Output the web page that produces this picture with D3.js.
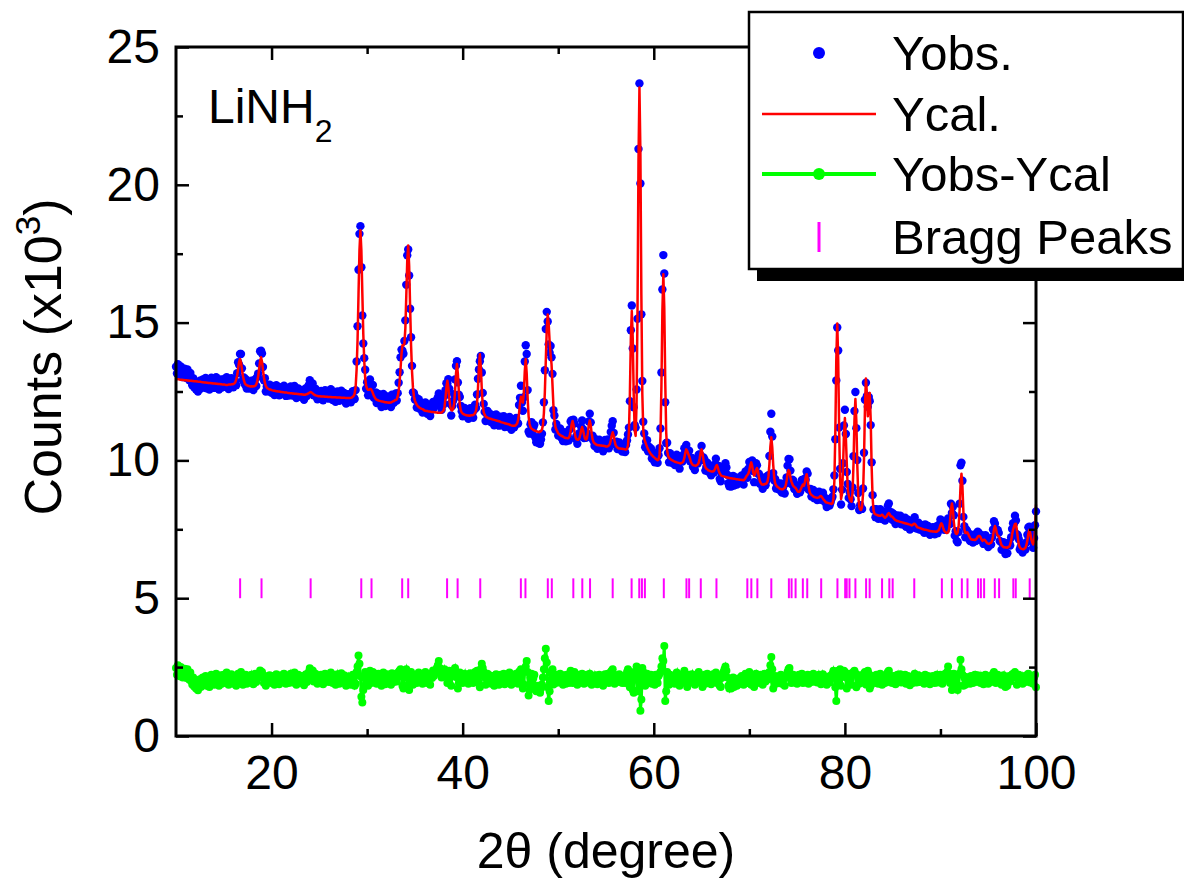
<!DOCTYPE html>
<html>
<head>
<meta charset="utf-8">
<script src="https://cdn.jsdelivr.net/npm/d3@7"></script>
<style>
  body { margin: 0; background: #ffffff; }
</style>
</head>
<body>
<div id="chart"></div>
<script>
// 2theta grid of the scan
const thetaStart = 10
const thetaStep = 0.1

// calculated profile Ycal, x10^3 counts, one line per degree
const yCalc = [
  12.95,12.95,12.94,12.94,12.93,12.93,12.93,12.92,12.92,12.91, // 10
  12.91,12.91,12.90,12.90,12.89,12.89,12.89,12.88,12.88,12.87,
  12.87,12.87,12.86,12.86,12.85,12.85,12.85,12.84,12.84,12.83,
  12.83,12.83,12.82,12.82,12.81,12.81,12.81,12.80,12.80,12.79,
  12.79,12.79,12.78,12.78,12.77,12.77,12.77,12.76,12.76,12.75,
  12.75,12.75,12.74,12.74,12.74,12.75,12.75,12.75,12.76,12.76, // 15
  12.77,12.79,12.83,12.93,13.08,13.32,13.57,13.68,13.56,13.30,
  13.07,12.91,12.80,12.75,12.73,12.71,12.70,12.69,12.68,12.69,
  12.68,12.69,12.69,12.71,12.76,12.87,13.05,13.32,13.60,13.74,
  13.58,13.29,13.01,12.82,12.70,12.64,12.61,12.59,12.57,12.57,
  12.55,12.54,12.53,12.53,12.52,12.51,12.51,12.50,12.50,12.49, // 20
  12.48,12.48,12.47,12.47,12.46,12.46,12.46,12.45,12.45,12.44,
  12.44,12.44,12.43,12.43,12.42,12.42,12.42,12.41,12.41,12.40,
  12.40,12.40,12.39,12.39,12.38,12.38,12.40,12.40,12.42,12.44,
  12.47,12.48,12.46,12.43,12.40,12.38,12.36,12.35,12.34,12.33,
  12.33,12.33,12.32,12.32,12.32,12.32,12.31,12.31,12.31,12.30, // 25
  12.30,12.30,12.30,12.29,12.29,12.29,12.29,12.29,12.28,12.28,
  12.28,12.28,12.28,12.27,12.27,12.27,12.27,12.27,12.26,12.26,
  12.26,12.26,12.26,12.27,12.28,12.31,12.34,12.43,12.67,13.29,
  14.37,16.02,17.62,18.35,17.61,16.06,14.59,13.61,12.99,12.70,
  12.60,12.56,12.56,12.59,12.59,12.53,12.44,12.35,12.29,12.23, // 30
  12.20,12.19,12.17,12.16,12.15,12.14,12.14,12.13,12.12,12.11,
  12.11,12.10,12.10,12.09,12.10,12.10,12.12,12.14,12.15,12.18,
  12.19,12.21,12.32,12.52,12.85,13.34,13.87,14.18,14.17,14.23,
  14.78,15.97,17.24,17.80,17.06,15.58,14.17,13.23,12.63,12.32,
  12.17,12.08,12.02,11.97,11.94,11.91,11.89,11.87,11.86,11.84, // 35
  11.81,11.80,11.79,11.79,11.78,11.77,11.77,11.76,11.76,11.76,
  11.75,11.75,11.74,11.74,11.73,11.73,11.73,11.73,11.74,11.77,
  11.80,11.94,12.25,12.65,12.89,12.65,12.25,11.95,11.83,11.81,
  11.86,12.05,12.49,13.13,13.50,13.13,12.48,12.02,11.82,11.74,
  11.70,11.68,11.66,11.65,11.64,11.63,11.63,11.62,11.63,11.64, // 40
  11.64,11.65,11.67,11.72,11.80,12.04,12.61,13.40,13.85,13.39,
  12.59,12.00,11.75,11.66,11.59,11.57,11.55,11.53,11.52,11.51,
  11.50,11.49,11.48,11.47,11.46,11.45,11.44,11.43,11.42,11.41,
  11.39,11.38,11.37,11.36,11.35,11.34,11.33,11.32,11.31,11.30,
  11.28,11.27,11.26,11.26,11.26,11.26,11.30,11.34,11.46,11.71, // 45
  12.07,12.31,12.20,12.10,12.44,13.24,13.68,13.16,12.25,11.60,
  11.32,11.21,11.15,11.13,11.11,11.09,11.07,11.06,11.05,11.04,
  11.02,11.05,11.06,11.12,11.28,11.71,12.47,13.62,14.74,15.29,
  14.96,14.31,13.85,13.49,12.74,11.97,11.47,11.22,11.12,11.06,
  10.98,10.95,10.92,10.90,10.88,10.86,10.84,10.82,10.81,10.81, // 50
  10.80,10.82,10.89,11.06,11.30,11.43,11.28,11.04,10.86,10.77,
  10.76,10.75,10.79,10.92,11.10,11.21,11.09,10.93,10.79,10.76,
  10.79,10.99,11.29,11.45,11.28,10.97,10.76,10.66,10.62,10.59,
  10.57,10.56,10.55,10.55,10.54,10.54,10.53,10.53,10.52,10.52,
  10.50,10.50,10.52,10.54,10.59,10.73,10.91,11.02,10.90,10.71, // 55
  10.56,10.50,10.47,10.44,10.43,10.43,10.42,10.42,10.41,10.41,
  10.40,10.40,10.42,10.54,11.04,12.40,14.42,15.42,14.41,12.38,
  11.09,10.89,12.07,15.54,20.90,23.53,21.15,16.00,12.43,11.10,
  10.78,10.68,10.58,10.49,10.41,10.34,10.28,10.23,10.19,10.15,
  10.12,10.09,10.06,10.03,10.01,10.03,10.20,10.86,12.69,15.40, // 60
  16.75,15.53,12.86,11.03,10.34,10.17,10.09,10.06,10.03,10.01,
  9.99,9.97,9.95,9.94,9.93,9.92,9.91,9.90,9.89,9.91,
  9.92,9.97,10.09,10.28,10.40,10.34,10.24,10.15,10.05,9.93,
  9.87,9.83,9.82,9.81,9.80,9.83,9.85,9.91,10.06,10.28,
  10.40,10.25,10.01,9.83,9.75,9.70,9.68,9.64,9.63,9.61, // 65
  9.60,9.60,9.60,9.62,9.68,9.78,9.83,9.75,9.62,9.53,
  9.48,9.44,9.43,9.42,9.41,9.40,9.39,9.38,9.37,9.36,
  9.35,9.35,9.34,9.34,9.33,9.33,9.32,9.32,9.31,9.31,
  9.30,9.30,9.29,9.29,9.28,9.31,9.36,9.43,9.47,9.52,
  9.64,9.83,9.93,9.80,9.57,9.45,9.50,9.66,9.72,9.60, // 70
  9.40,9.25,9.18,9.13,9.13,9.12,9.14,9.14,9.17,9.23,
  9.42,9.86,10.49,10.84,10.47,9.84,9.38,9.17,9.10,9.05,
  9.03,9.00,8.97,8.96,8.95,8.95,8.98,9.00,9.08,9.26,
  9.51,9.65,9.59,9.39,9.24,9.14,9.07,9.04,9.01,8.97,
  8.91,8.86,8.86,8.88,8.97,9.05,9.12,9.08,9.18,9.38, // 75
  9.50,9.32,9.06,8.87,8.78,8.75,8.72,8.69,8.67,8.66,
  8.65,8.64,8.65,8.66,8.70,8.71,8.67,8.61,8.57,8.53,
  8.48,8.47,8.46,8.45,8.44,8.43,8.42,8.44,8.60,9.25,
  11.02,13.65,14.97,13.64,11.09,9.30,8.60,8.78,9.66,10.92,
  11.54,10.86,9.88,8.95,8.74,8.61,8.53,8.50,8.82,9.85, // 80
  11.44,12.23,11.42,9.81,8.72,8.32,8.21,8.20,8.32,8.78,
  10.03,11.90,12.97,12.44,11.60,12.06,12.45,11.48,9.77,8.64,
  8.18,8.07,8.04,8.03,8.01,8.00,7.99,7.99,8.01,8.03,
  7.99,7.95,7.92,7.95,7.99,8.06,8.09,8.04,7.97,7.97,
  7.94,7.90,7.86,7.83,7.81,7.80,7.79,7.78,7.77,7.76, // 85
  7.75,7.74,7.73,7.72,7.71,7.70,7.69,7.68,7.67,7.66,
  7.64,7.66,7.70,7.70,7.67,7.61,7.57,7.56,7.55,7.54,
  7.52,7.51,7.50,7.49,7.48,7.48,7.47,7.46,7.45,7.44,
  7.43,7.43,7.42,7.42,7.42,7.41,7.41,7.44,7.46,7.54,
  7.66,7.72,7.65,7.53,7.44,7.40,7.37,7.37,7.39,7.50, // 90
  7.79,8.23,8.44,8.22,7.77,7.47,7.35,7.33,7.38,7.60,
  8.18,9.07,9.52,9.06,8.15,7.51,7.37,7.37,7.39,7.34,
  7.25,7.19,7.14,7.13,7.12,7.12,7.11,7.13,7.16,7.23,
  7.26,7.26,7.21,7.13,7.08,7.11,7.12,7.09,7.04,6.99,
  6.98,6.97,7.00,7.01,7.08,7.25,7.49,7.62,7.53,7.35, // 95
  7.27,7.25,7.16,7.01,6.92,6.89,6.85,6.85,6.84,6.84,
  6.83,6.86,6.87,6.95,7.09,7.31,7.48,7.60,7.69,7.70,
  7.48,7.18,6.94,6.85,6.81,6.79,6.78,6.78,6.80,6.83,
  6.93,7.10,7.33,7.47,7.36,7.15,7.02,6.95,7.08,7.45,
  8.40 // 100
]

// Yobs - Ycal, x10^3 counts, same grid
const yDiff = [
  .45,.20,.55,.25,.15,.48,.30,.10,.35,.42, // 10
  .35,.08,.40,.18,.02,.28,-.02,-.15,.10,-.22,
  -.16,-.30,-.10,-.36,-.20,.04,-.24,-.12,.10,-.16,
  -.04,.16,-.20,-.08,.12,-.24,.00,.20,-.10,.06,
  -.16,.10,.24,-.06,.14,-.20,.04,.18,-.12,.08,
  .20,-.08,.04,.28,.10,-.16,.12,-.04,.22,.06, // 15
  -.12,.16,.04,-.20,.08,.24,-.10,.18,.30,.04,
  -.16,.10,-.04,.20,-.12,.06,.14,-.08,.10,.20,
  .04,-.14,.12,.24,-.06,.16,.10,.20,.36,.24,
  .30,.10,-.10,.16,-.20,.04,.12,-.08,.18,.02,
  -.10,.16,.06,-.16,.12,.22,-.04,.08,-.14,.10, // 20
  .18,-.06,.12,.24,.00,-.12,.16,.06,-.10,.14,
  .24,.08,-.08,.12,.28,.04,-.16,.10,.20,-.04,
  .12,-.10,.16,.04,-.18,.08,.22,-.06,.14,.30,
  .44,.20,.10,.36,-.04,.16,.24,.02,-.12,.08,
  .16,-.08,.20,.06,-.14,.12,.24,-.04,.10,.18, // 25
  -.06,.14,.28,.04,-.10,.20,.08,-.16,.12,.22,
  .04,-.12,.16,.26,.00,-.08,.18,.10,-.20,.06,
  .14,-.04,.10,-.16,.08,.20,-.06,-.20,-.12,.30,
  .50,.90,.60,.15,-.60,-.80,-.35,.10,.30,-.10,
  .24,-.20,.16,.35,-.10,.20,.30,-.08,.12,.24, // 30
  -.12,.08,.24,-.04,.16,-.20,.10,.28,.00,-.14,
  .12,.22,-.08,.18,.04,-.16,.26,.08,-.06,.16,
  .24,-.04,.12,.30,.35,.40,.15,-.20,-.30,.10,
  .30,.40,.20,-.15,-.35,-.08,.30,.20,-.16,.12,
  .04,.20,-.10,.16,.28,-.04,.12,.22,-.12,.08, // 35
  .18,.30,.06,-.10,.20,.12,-.16,.24,.08,.36,
  .16,.28,.35,.45,.55,.70,.45,.25,.10,.35,
  .24,.40,.30,.15,-.10,.30,.35,.10,-.20,.16,
  .30,.35,.45,.30,.10,-.30,-.10,.28,.16,.04,
  -.10,.16,.24,-.04,.12,.20,-.12,.08,.26,.14, // 40
  .04,-.10,.16,.30,.10,.35,.35,-.10,-.25,.40,
  .60,.45,.30,.10,-.16,.12,.24,-.08,.18,.04,
  -.12,.16,.06,-.20,.10,.22,-.04,.14,-.16,.08,
  .20,-.08,.12,.24,-.14,.04,.16,-.10,.18,.28,
  .06,-.16,.10,.20,-.06,.14,.24,.04,-.12,.30, // 45
  .20,.40,-.10,-.30,-.15,.35,.50,.70,.30,-.55,
  -.35,.10,.24,-.16,.08,.20,-.24,-.40,-.35,-.20,
  -.40,-.45,-.30,-.15,.10,.40,.80,1.15,.65,-.25,
  -.75,-.40,.30,.25,.40,-.15,.16,-.10,.20,.04,
  -.08,.14,.24,-.06,.10,-.16,.18,.06,-.12,.20, // 50
  .08,-.10,.24,.35,.16,-.10,.20,.30,-.08,.12,
  -.16,.10,.20,-.04,.12,.24,.04,-.12,.16,.06,
  .20,-.08,.12,.24,.10,-.16,.14,.04,-.10,.18,
  .10,-.14,.08,.20,-.06,.16,.04,-.20,.12,.22,
  -.04,.14,.24,-.10,.08,.30,.35,.40,.10,-.12, // 55
  .08,.18,-.06,.12,.22,-.04,.14,-.10,.06,.16,
  -.10,.16,.30,.40,.15,-.25,.30,.20,-.35,-.45,
  .20,.30,.50,-.40,.40,.15,-1.10,-.70,.45,.30,
  .20,-.20,.10,.24,-.08,.16,.04,.20,-.12,.08,
  .12,-.16,.20,.06,-.10,.16,.24,.30,.50,.80, // 60
  .70,1.25,-.75,-.40,.30,.10,-.16,.20,.08,-.10,
  .16,.04,-.12,.20,.28,-.06,.12,-.20,.10,.18,
  .04,.24,.35,-.10,.16,-.24,.10,.20,-.08,.14,
  .22,-.06,.12,-.16,.08,.20,.04,.30,.16,-.10,
  .12,-.24,.10,.20,-.12,.06,.24,-.04,.16,.08, // 65
  -.14,.10,.22,-.06,.16,.28,-.10,.04,.18,-.20,
  -.24,.08,.20,.30,.40,.50,.35,.10,-.20,-.30,
  -.16,-.30,-.08,.10,-.24,-.12,.06,-.20,.04,-.10,
  .08,-.12,.16,.04,-.16,.10,.24,.06,-.10,.18,
  .30,.10,-.16,.20,.04,-.24,.16,.24,.10,-.08, // 70
  .12,-.10,.20,.06,-.16,.14,.24,-.04,.10,.20,
  .04,.30,.55,.85,.40,-.30,-.10,.16,-.12,.08,
  .14,-.06,.10,.20,-.12,.04,.16,-.20,.08,.12,
  .30,.40,.45,.24,-.10,.16,.20,-.08,.12,.04,
  -.12,.10,.20,-.04,.14,.24,-.10,.06,.16,-.08, // 75
  .10,.20,-.12,.06,.18,-.06,.12,.24,-.04,.10,
  .16,-.08,.04,.20,.10,-.14,.08,.22,.12,-.04,
  .10,-.16,.06,.14,-.08,.04,.18,.24,.35,.20,
  -.25,-.75,-.15,.35,.10,.40,-.20,.16,.24,.35,
  .30,.10,-.30,.20,-.10,.24,.06,-.16,.20,.30, // 80
  .35,.25,-.25,.20,.10,-.12,.16,.04,-.08,.20,
  .25,.30,-.15,-.10,.35,.24,-.30,-.20,.16,.10,
  .04,.16,-.10,.20,.08,-.12,.14,.24,.00,-.16,
  .12,.06,-.10,.20,.16,.30,.35,.10,-.08,.14,
  -.10,.16,.06,-.14,.12,.20,-.04,.10,.22,-.08, // 85
  .14,-.06,.10,.20,-.12,.04,.16,.08,-.18,.12,
  .06,-.10,.16,.24,.04,-.08,.12,.18,-.06,.10,
  -.04,.14,.08,-.12,.20,.06,-.08,.16,.04,-.14,
  .10,-.06,.16,.04,-.10,.12,.20,-.08,.06,.14,
  .20,.10,-.12,.16,.04,.24,.12,.30,.50,.25, // 90
  -.10,.20,-.35,.10,.24,-.20,.08,-.25,-.35,-.20,
  .25,.75,.40,.20,-.20,.10,-.16,.12,.04,-.10,
  .08,-.12,.16,.04,-.10,.14,.20,-.06,.10,.18,
  .12,.04,-.10,.16,.08,-.14,.06,.20,-.08,.04,
  -.12,.10,.16,-.06,.12,.24,.30,.08,-.10,.14, // 95
  .20,.12,-.08,.04,-.16,.10,.18,-.10,-.24,.06,
  -.20,.08,.16,-.04,.12,.20,.24,.10,.30,.12,
  -.16,.10,.20,-.08,.06,.14,-.12,.04,.16,-.06,
  .10,.20,.24,.12,-.08,.16,.04,-.12,.10,.20,
  -.25 // 100
]
const diffOffset = 2.02 // the difference curve is shifted up for display

// Bragg reflection positions (2theta)
const braggPeaks = [
  16.71, 18.95, 24.09, 29.39, 30.46, 33.67, 34.30, 38.37, 39.47, 41.84,
  46.09, 46.57, 48.91, 49.33, 51.58, 52.52, 53.33, 55.70, 57.68, 58.48,
  58.76, 59.07, 61.05, 63.42, 63.70, 64.92, 66.56, 69.79, 70.21, 70.84,
  72.30, 74.14, 74.42, 74.84, 75.60, 76.06, 77.52, 79.22, 80.03, 80.19,
  80.48, 81.10, 82.22, 82.59, 83.89, 84.65, 85.00, 87.26, 90.15, 91.20,
  92.24, 92.83, 93.94, 94.23, 94.57, 95.69, 96.14, 97.63, 97.88, 99.34
]
const braggRange = [5.0, 5.72]

const xMajorTicks = [20, 40, 60, 80, 100]
const xMinorTicks = [30, 50, 70, 90]
const yMajorTicks = [0, 5, 10, 15, 20, 25]
const yMinorTicks = [2.5, 7.5, 12.5, 17.5, 22.5]
const legendLabels = ["Yobs.", "Ycal.", "Yobs-Ycal", "Bragg Peaks"]

const font = "'Liberation Sans', Arial, Helvetica, sans-serif"
const width = 1184, height = 882
const plot = { left: 176, right: 1036, top: 47, bottom: 736 }

const svg = d3.select("#chart")
    .append("svg")
    .attr("width", width)
    .attr("height", height)
    .style("display", "block")
    .style("background", "#ffffff")

const x = d3.scaleLinear().domain([10, 100]).range([plot.left, plot.right])
const y = d3.scaleLinear().domain([0, 25]).range([plot.bottom, plot.top])

const n = Math.min(yCalc.length, yDiff.length)
const points = d3.range(n).map(i => ({
    tt: thetaStart + i * thetaStep,
    calc: yCalc[i],
    obs: yCalc[i] + yDiff[i],
    diff: yDiff[i] + diffOffset
}))

// difference curve
svg.append("path")
    .datum(points)
    .attr("fill", "none")
    .attr("stroke", "#00ff00")
    .attr("stroke-width", 3)
    .attr("d", d3.line().x(d => x(d.tt)).y(d => y(d.diff)))

svg.append("g")
    .selectAll("circle")
    .data(points)
    .join("circle")
    .attr("cx", d => x(d.tt))
    .attr("cy", d => y(d.diff))
    .attr("r", 4)
    .attr("fill", "#00ff00")

// observed points
svg.append("g")
    .selectAll("circle")
    .data(points)
    .join("circle")
    .attr("cx", d => x(d.tt))
    .attr("cy", d => y(d.obs))
    .attr("r", 4.2)
    .attr("fill", "#0000ff")

// calculated profile
svg.append("path")
    .datum(points)
    .attr("fill", "none")
    .attr("stroke", "#ff0000")
    .attr("stroke-width", 2.5)
    .attr("stroke-linejoin", "round")
    .attr("d", d3.line().x(d => x(d.tt)).y(d => y(d.calc)))

// Bragg markers
svg.append("g")
    .selectAll("line")
    .data(braggPeaks)
    .join("line")
    .attr("x1", d => x(d)).attr("x2", d => x(d))
    .attr("y1", y(braggRange[0])).attr("y2", y(braggRange[1]))
    .attr("stroke", "#ff00ff")
    .attr("stroke-width", 2)

// axes, ticks point inward on all four sides
function styleAxis(g, labelled) {
    g.attr("font-family", font).attr("font-size", 48)
    g.select(".domain").remove()
    g.selectAll(".tick line").attr("stroke", "#000").attr("stroke-width", 2.5)
    g.selectAll(".tick text").attr("fill", "#000")
    if (!labelled) g.selectAll(".tick text").remove()
}

function addAxis(axis, transform, labelled) {
    svg.append("g")
        .attr("transform", transform)
        .call(axis)
        .call(g => styleAxis(g, labelled))
}

addAxis(d3.axisBottom(x).tickValues(xMajorTicks).tickSize(-13).tickPadding(19).tickFormat(d3.format("d")),
    `translate(0,${plot.bottom})`, true)
addAxis(d3.axisBottom(x).tickValues(xMinorTicks).tickSize(-7), `translate(0,${plot.bottom})`, false)
addAxis(d3.axisTop(x).tickValues(xMajorTicks).tickSize(-13), `translate(0,${plot.top})`, false)
addAxis(d3.axisTop(x).tickValues(xMinorTicks).tickSize(-7), `translate(0,${plot.top})`, false)
addAxis(d3.axisLeft(y).tickValues(yMajorTicks).tickSize(-13).tickPadding(16).tickFormat(d3.format("d")),
    `translate(${plot.left},0)`, true)
addAxis(d3.axisLeft(y).tickValues(yMinorTicks).tickSize(-7), `translate(${plot.left},0)`, false)
addAxis(d3.axisRight(y).tickValues(yMajorTicks).tickSize(-13), `translate(${plot.right},0)`, false)
addAxis(d3.axisRight(y).tickValues(yMinorTicks).tickSize(-7), `translate(${plot.right},0)`, false)

svg.append("rect")
    .attr("x", plot.left).attr("y", plot.top)
    .attr("width", plot.right - plot.left).attr("height", plot.bottom - plot.top)
    .attr("fill", "none")
    .attr("stroke", "#000")
    .attr("stroke-width", 3)

// axis titles
svg.append("text")
    .attr("x", (plot.left + plot.right) / 2)
    .attr("y", 868)
    .attr("text-anchor", "middle")
    .attr("font-family", font)
    .attr("font-size", 50)
    .text("2θ (degree)")

const yTitle = svg.append("text")
    .attr("transform", "translate(61,357) rotate(-90)")
    .attr("text-anchor", "middle")
    .attr("font-family", font)
    .attr("font-size", 52)
yTitle.append("tspan").text("Counts (x10")
yTitle.append("tspan").attr("font-size", 35).attr("dy", -21).text("3")
yTitle.append("tspan").attr("dy", 21).text(")")

const sample = svg.append("text")
    .attr("x", 208).attr("y", 123)
    .attr("font-family", font)
    .attr("font-size", 48)
sample.append("tspan").text("LiNH")
sample.append("tspan").attr("font-size", 32).attr("dy", 19).text("2")

// legend
const legend = svg.append("g")
legend.append("rect")
    .attr("x", 757).attr("y", 24).attr("width", 440).attr("height", 257)
    .attr("fill", "#000")
legend.append("rect")
    .attr("x", 749).attr("y", 12).attr("width", 434).attr("height", 257)
    .attr("fill", "#fff")
    .attr("stroke", "#000")
    .attr("stroke-width", 2.5)

const rowY = [53, 114, 174, 237]
legend.append("circle").attr("cx", 819).attr("cy", rowY[0]).attr("r", 6).attr("fill", "#0000ff")
legend.append("line")
    .attr("x1", 762).attr("x2", 876).attr("y1", rowY[1]).attr("y2", rowY[1])
    .attr("stroke", "#ff0000").attr("stroke-width", 2.5)
legend.append("line")
    .attr("x1", 762).attr("x2", 876).attr("y1", rowY[2]).attr("y2", rowY[2])
    .attr("stroke", "#00ff00").attr("stroke-width", 4)
legend.append("circle").attr("cx", 819).attr("cy", rowY[2]).attr("r", 6).attr("fill", "#00ff00")
legend.append("line")
    .attr("x1", 819).attr("x2", 819).attr("y1", rowY[3] - 15).attr("y2", rowY[3] + 15)
    .attr("stroke", "#ff00ff").attr("stroke-width", 3)

legend.selectAll("text.label")
    .data(legendLabels)
    .join("text")
    .attr("class", "label")
    .attr("x", 892)
    .attr("y", (d, i) => rowY[i] + 17)
    .attr("font-family", font)
    .attr("font-size", 49)
    .attr("fill", "#000")
    .text(d => d)
</script>
</body>
</html>
